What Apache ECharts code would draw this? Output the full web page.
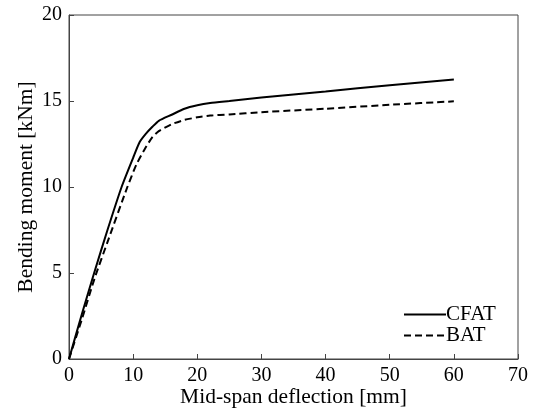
<!DOCTYPE html>
<html>
<head>
<meta charset="utf-8">
<script src="https://cdn.jsdelivr.net/npm/echarts@6/dist/echarts.min.js"></script>
<style>
html, body { margin: 0; padding: 0; background: #fff; }
#chart { width: 537px; height: 419px; }
</style>
</head>
<body>
<div id="chart"></div>
<script>
// 跨中挠度 [mm] 与弯矩 [kNm]
var cfatX = [0, 2, 4, 6, 8.2, 10, 11, 12, 13, 14, 16, 18, 20, 22, 25, 30, 40, 50, 60];
var cfatY = [0, 2.6, 5.1, 7.5, 10.0, 11.7, 12.6, 13.1, 13.5, 13.85, 14.2, 14.55, 14.75, 14.88, 15.0, 15.2, 15.55, 15.92, 16.25];
var batX = [0, 2, 4, 6, 9.1, 10.5, 11.8, 13, 14, 16, 18, 20, 22, 25, 30, 40, 50, 60];
var batY = [0, 2.3, 4.7, 6.8, 10.0, 11.3, 12.2, 12.9, 13.25, 13.65, 13.9, 14.05, 14.15, 14.22, 14.35, 14.55, 14.78, 14.98];
var xTicks = [0, 10, 20, 30, 40, 50, 60, 70];
var yTicks = [0, 5, 10, 15, 20];

function pairs(xs, ys) {
	var out = [];
	for (var i = 0; i < xs.length; i++) {
		out.push([xs[i], ys[i]]);
	}
	return out;
}

var font = 'Liberation Serif, Times New Roman, serif';
var myChart = echarts.init(document.getElementById('chart'));
var option = {
	backgroundColor: '#fff',
	animation: false,
	grid: {
		left: 69, right: 19, top: 15, bottom: 60,
		show: true,
		borderColor: '#444',
		borderWidth: 1
	},
	legend: {
		orient: 'vertical',
		left: 398,
		top: 299,
		itemWidth: 42,
		itemHeight: 10,
		itemGap: 0,
		itemStyle: { opacity: 0 },
		textStyle: { fontFamily: font, fontSize: 21, color: '#000', padding: [0, 0, 0, -5] },
		data: ['CFAT', 'BAT']
	},
	xAxis: {
		type: 'value',
		min: xTicks[0],
		max: xTicks[xTicks.length - 1],
		interval: 10,
		name: 'Mid-span deflection [mm]',
		nameLocation: 'middle',
		nameGap: 27,
		nameMoveOverlap: false,
		nameTextStyle: { fontFamily: font, fontSize: 21.5, color: '#000' },
		axisLine: { lineStyle: { color: '#444', width: 1 } },
		axisTick: { inside: true, length: 5, lineStyle: { color: '#444' } },
		axisLabel: { fontFamily: font, fontSize: 20, color: '#000', margin: 7 },
		splitLine: { show: false }
	},
	yAxis: {
		type: 'value',
		min: yTicks[0],
		max: yTicks[yTicks.length - 1],
		interval: 5,
		name: 'Bending moment [kNm]',
		nameLocation: 'middle',
		nameGap: 32,
		nameMoveOverlap: false,
		nameTextStyle: { fontFamily: font, fontSize: 21.5, color: '#000' },
		axisLine: { lineStyle: { color: '#444', width: 1 } },
		axisTick: { inside: true, length: 5, lineStyle: { color: '#444' } },
		axisLabel: { fontFamily: font, fontSize: 20, color: '#000', margin: 7 },
		splitLine: { show: false }
	},
	series: [
		{
			name: 'CFAT',
			type: 'line',
			showSymbol: false,
			symbol: 'none',
			smooth: 0.2,
			lineStyle: { color: '#000', width: 2 },
			itemStyle: { color: '#000' },
			data: pairs(cfatX, cfatY)
		},
		{
			name: 'BAT',
			type: 'line',
			showSymbol: false,
			symbol: 'none',
			smooth: 0.2,
			lineStyle: { color: '#000', width: 2, type: [7, 4] },
			itemStyle: { color: '#000' },
			data: pairs(batX, batY)
		}
	]
};
myChart.setOption(option);
</script>
</body>
</html>
